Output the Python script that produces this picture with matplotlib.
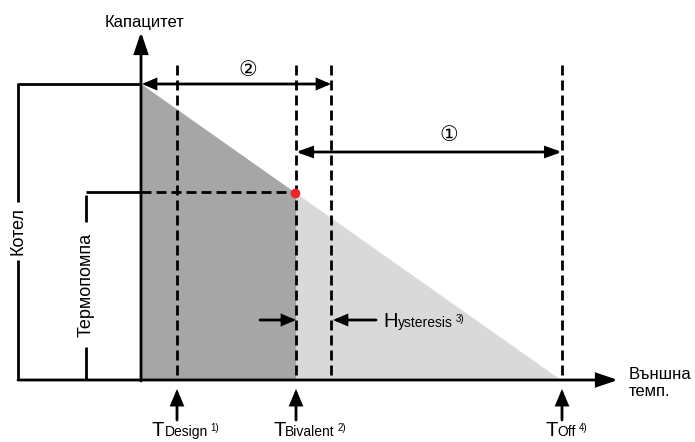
import matplotlib
matplotlib.use('Agg')
import matplotlib.pyplot as plt
from matplotlib.patches import Polygon
from matplotlib.transforms import ScaledTranslation

# ---------------- schematic data (diagram units, y grows downward) ----------------
temp_names = ['Design', 'Bivalent', 'Off']      # T_Design, T_Bivalent, T_Off
temp_notes = ['1)', '2)', '4)']
temp_pos = [177, 296, 562]                       # outside temperature positions
hyst_pos = 331                                   # T_Bivalent + hysteresis
origin_x = 141                                   # capacity axis position
axis_y = 380                                     # outside-temperature axis (zero capacity)
cap_boiler = 84                                  # boiler capacity level
cap_hp = 192                                     # heat pump capacity at T_Bivalent
zero_cap_x = 561                                 # where demand line reaches zero
left_x_boiler = 18
left_x_hp = 86

y_label = 'Капацитет'
x_label = 'Външна\nтемп.'
boiler_label = 'Котел'
hp_label = 'Термопомпа'

# ---------------- figure ----------------
W, H, DPI = 695, 442, 100
fig = plt.figure(figsize=(W / DPI, H / DPI), dpi=DPI)
ax = fig.add_axes([0, 0, 1, 1])
ax.set_xlim(0, W)
ax.set_ylim(H, 0)
ax.axis('off')

FONT = ['Liberation Sans', 'DejaVu Sans']
LW = 2.0
DASH = (0, (3.6, 1.8))
DARK = '#a6a6a6'
LIGHT = '#d9d9d9'


def demand(x):
    return cap_boiler + (x - origin_x) * (axis_y - cap_boiler) / (zero_cap_x - origin_x)


biv = temp_pos[1]
# shaded areas
ax.add_patch(Polygon([(origin_x, cap_boiler), (biv, demand(biv)), (biv, axis_y), (origin_x, axis_y)],
                     closed=True, facecolor=DARK, edgecolor='none', zorder=1))
ax.add_patch(Polygon([(biv, demand(biv)), (zero_cap_x, axis_y), (biv, axis_y)],
                     closed=True, facecolor=LIGHT, edgecolor='none', zorder=1))


def arrow(tail, tip, style='-|>', hl=0.75, hw=0.32, lw=LW):
    ax.annotate('', xy=tip, xytext=tail,
                arrowprops=dict(arrowstyle=f'{style},head_length={hl},head_width={hw}',
                                lw=lw, color='black', shrinkA=0, shrinkB=0,
                                mutation_scale=10, joinstyle='miter'), zorder=5)


def line(xs, ys, dashed=False, z=4):
    ax.plot(xs, ys, color='black', lw=LW, ls=DASH if dashed else '-',
            solid_capstyle='butt', dash_capstyle='butt', zorder=z)


# axes
arrow((left_x_boiler, axis_y), (618, axis_y), hl=1.25, hw=0.42)
arrow((origin_x, axis_y + 1), (origin_x, 32), hl=1.25, hw=0.42)

# boiler bracket
line([left_x_boiler, origin_x], [cap_boiler, cap_boiler])
line([left_x_boiler, left_x_boiler], [cap_boiler - 1, 202])
line([left_x_boiler, left_x_boiler], [260, axis_y])
ax.text(left_x_boiler, 231, boiler_label, rotation=90, ha='center', va='center',
        fontsize=13, family=FONT, zorder=6)

# heat pump bracket
line([left_x_hp, origin_x], [cap_hp, cap_hp])
line([origin_x, biv], [cap_hp, cap_hp], dashed=True)
line([left_x_hp, left_x_hp], [195, 222])
line([left_x_hp, left_x_hp], [347, axis_y])
ax.text(left_x_hp, 285, hp_label, rotation=90, ha='center', va='center',
        fontsize=13, family=FONT, zorder=6)

# vertical dashed lines
for x in temp_pos + [hyst_pos]:
    line([x, x], [65, axis_y], dashed=True)

# red bivalent point
ax.plot([biv - 1], [demand(biv)], 'o', color='#e8262b', ms=7, mec='none', zorder=7)

# range arrows
arrow((hyst_pos, cap_boiler), (origin_x + 1, cap_boiler), style='<|-|>', hl=0.75, hw=0.32)
ax.text((origin_x + hyst_pos) / 2 + 12, 70, '②', ha='center', va='center', fontsize=15,
        family=['DejaVu Sans'], zorder=6)
arrow((biv, 152), (temp_pos[2], 152), style='<|-|>', hl=0.9, hw=0.32)
ax.text((biv + temp_pos[2]) / 2 + 20, 135, '①', ha='center', va='center', fontsize=15,
        family=['DejaVu Sans'], zorder=6)

# hysteresis arrows
arrow((260, 320), (biv, 320), hl=0.75, hw=0.32)
arrow((376, 320), (hyst_pos + 2, 320), hl=0.75, hw=0.32)

# axis labels
ax.text(144, 22, y_label, ha='center', va='center', fontsize=12, family=FONT)
ax.text(629, 383, x_label, ha='left', va='center', fontsize=12, family=FONT,
        linespacing=1.1)

# composite text helper
renderer = fig.canvas.get_renderer()


def compose(x, y, parts):
    """parts: list of (text, fontsize, dy_px, gap_px) placed left to right on baseline y."""
    dx = 0.0
    for s, fs, dy, gap in parts:
        dx += gap
        t = ax.text(x, y, s, ha='left', va='baseline', fontsize=fs, family=FONT, zorder=6)
        t.set_transform(ax.transData + ScaledTranslation(dx / DPI, dy / DPI, fig.dpi_scale_trans))
        dx += t.get_window_extent(renderer).width


# bottom arrows and T labels
label_shift = [-25, -23, -17]
for x, name, note, sh in zip(temp_pos, temp_names, temp_notes, label_shift):
    arrow((x, 420), (x, 389), hl=0.9, hw=0.38)
    compose(x + sh, 436, [('T', 14.5, 0, 0), (name, 10, 0, 0), (note, 7, 5, 3)])

# hysteresis label
compose(383, 327, [('H', 14.5, 0, 0), ('ysteresis', 10, 0, 0), ('3)', 7, 5, 3)])

fig.savefig('out.png', dpi=DPI)
